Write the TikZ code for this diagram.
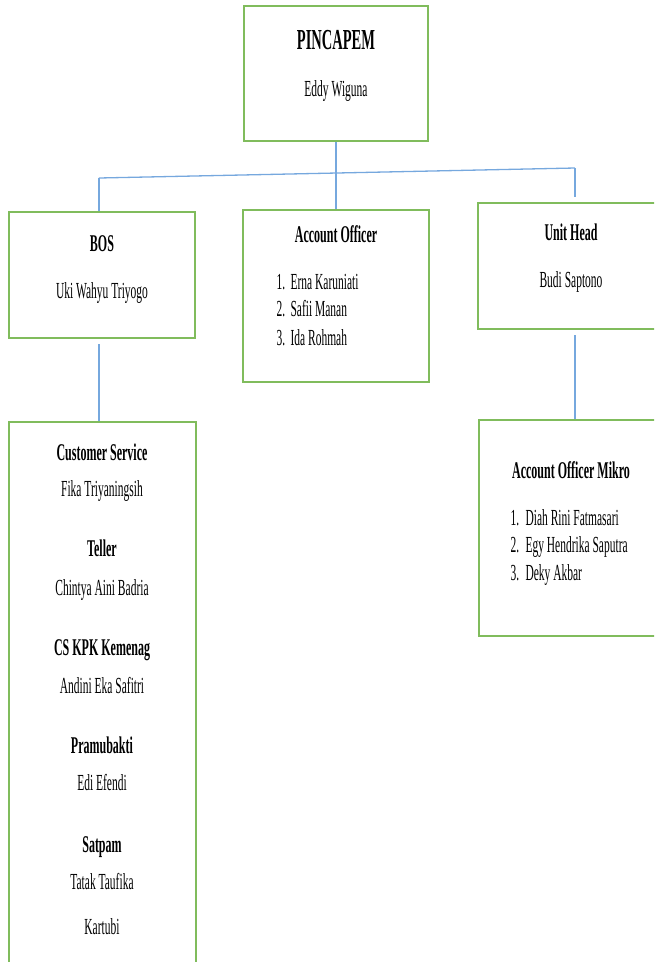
\documentclass[tikz,border=0pt]{standalone}
\usepackage{fontspec}
\setmainfont{Liberation Serif}[FakeStretch=0.5]

\definecolor{boxgreen}{RGB}{128,188,92}
\definecolor{lineblue}{RGB}{118,168,222}

\tikzset{
  box/.style={draw=boxgreen, line width=2pt, minimum width=186pt, inner sep=0pt},
  link/.style={draw=lineblue, line width=1.3pt},
  title/.style={black, anchor=base, font=\fontsize{29}{32}\selectfont\bfseries},
  head/.style={black, anchor=base, font=\fontsize{24}{28}\selectfont\bfseries},
  txt/.style={black, anchor=base, font=\fontsize{23}{28}\selectfont},
  item/.style={black, anchor=base west, font=\fontsize{23}{28}\selectfont},
}

\begin{document}
\begin{tikzpicture}[x=1pt, y=-1pt]

  \useasboundingbox (0,0) rectangle (654,962);
  \clip (0,0) rectangle (654,962);

  % Boxes, top row first.
  \node[box, minimum width=184pt, minimum height=135pt] (pincapem) at (336,73.5) {};
  \node[box, minimum height=126pt] (bos) at (102,275) {};
  \node[box, minimum height=172pt] (ao) at (336,296) {};
  \node[box, minimum height=126pt] (unithead) at (571,266) {};

  % Boxes of the lower row.
  \node[box, minimum width=187pt, minimum height=548pt] (staff) at (102.5,696) {};
  \node[box, minimum height=216pt] (aomikro) at (572,528) {};

  % Lines between the boxes
  \coordinate (barL) at (99,178);
  \coordinate (barR) at (575,168);
  \draw[link] (pincapem.south) -- (ao.north);
  \draw[link] (barL) -- (barR);
  \draw[link] (barL) -- (barL |- bos.north);
  \draw[link] (barR) -- ([yshift=5pt]barR |- unithead.north);
  \draw[link] ([yshift=-5pt]barL |- bos.south) -- (barL |- staff.north);
  \draw[link] ([yshift=-5pt]barR |- unithead.south) -- (barR |- aomikro.north);

  % Text in the top box
  \node[title] (pinT) at (336,49) {PINCAPEM};
  \node[txt] (pinN) at (336,96) {Eddy Wiguna};

  % Text in the middle row
  \node[head] (bosT) at (102,251) {BOS};
  \node[txt] (bosN) at (102,298) {Uki Wahyu Triyogo};

  \node[head] (aoT) at (336,242) {Account Officer};
  \node[item] (aoI1) at (273,289) {1.};
  \node[item] (aoN1) at (287,289) {Erna Karuniati};
  \node[item] (aoI2) at (273,316) {2.};
  \node[item] (aoN2) at (287,316) {Safii Manan};
  \node[item] (aoI3) at (273,345) {3.};
  \node[item] (aoN3) at (287,345) {Ida Rohmah};

  \node[head] (unitT) at (571,240) {Unit Head};
  \node[txt] (unitN) at (571,287) {Budi Saptono};

  % Text in the staff box on the left
  \node[head] (csT) at (102,460) {Customer Service};
  \node[txt] (csN) at (102,496) {Fika Triyaningsih};
  \node[head] (tellerT) at (102,556) {Teller};
  \node[txt] (tellerN) at (102,595) {Chintya Aini Badria};
  \node[head] (kpkT) at (102,655) {CS KPK Kemenag};
  \node[txt] (kpkN) at (102,693) {Andini Eka Safitri};
  \node[head] (pramuT) at (102,753) {Pramubakti};
  \node[txt] (pramuN) at (102,790) {Edi Efendi};
  \node[head] (satpamT) at (102,852) {Satpam};
  \node[txt] (satpamN1) at (102,889) {Tatak Taufika};
  \node[txt] (satpamN2) at (102,934) {Kartubi};

  % Text in the box on the lower right
  \node[head] (mikroT) at (571,478) {Account Officer Mikro};
  \node[item] (mikroI1) at (507,525) {1.};
  \node[item] (mikroN1) at (522,525) {Diah Rini Fatmasari};
  \node[item] (mikroI2) at (507,552) {2.};
  \node[item] (mikroN2) at (522,552) {Egy Hendrika Saputra};
  \node[item] (mikroI3) at (507,580) {3.};
  \node[item] (mikroN3) at (522,580) {Deky Akbar};

\end{tikzpicture}
\end{document}
